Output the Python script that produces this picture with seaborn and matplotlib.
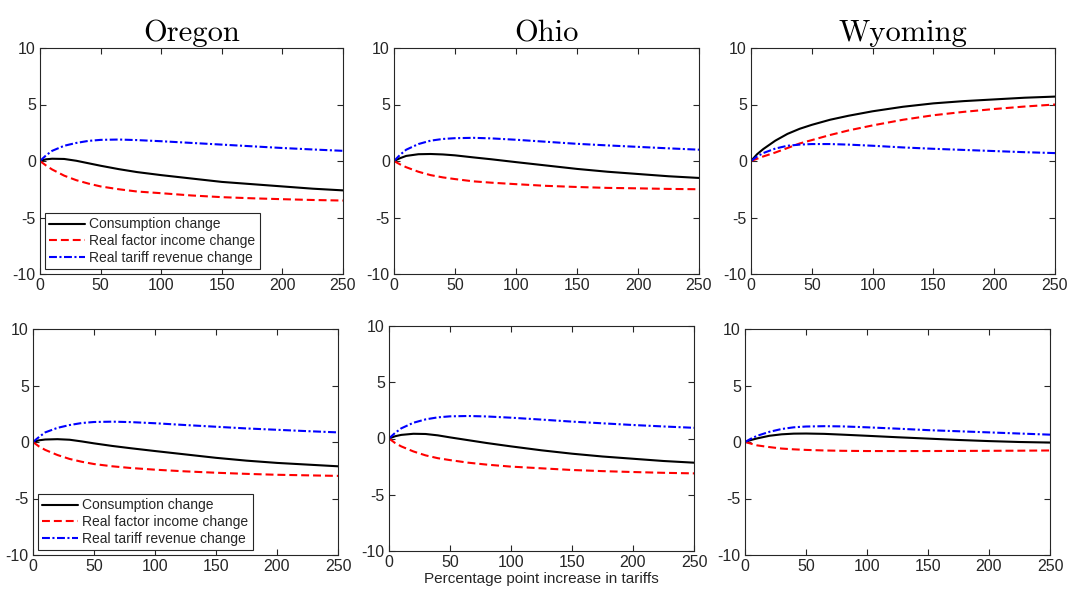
import numpy as np
import pandas as pd
import seaborn as sns
import matplotlib
matplotlib.use("Agg")
import matplotlib.pyplot as plt

sns.set_theme(style="ticks")
plt.rcParams['font.family'] = ['Liberation Sans', 'DejaVu Sans']
plt.rcParams['axes.unicode_minus'] = False

# ---------------- data ----------------
x_vals = [0, 5, 10, 20, 30, 40, 50, 65, 80, 100, 125, 150, 175, 200, 225, 250]
states = ["Oregon", "Ohio", "Wyoming"]
series_names = ["Consumption change", "Real factor income change", "Real tariff revenue change"]

# top row
oregon_top_cons = [0, 0.15, 0.2, 0.18, 0.02, -0.2, -0.42, -0.72, -0.98, -1.25, -1.55, -1.85, -2.05, -2.25, -2.45, -2.6]
oregon_top_fac = [0, -0.4, -0.75, -1.3, -1.7, -2.0, -2.25, -2.5, -2.7, -2.85, -3.05, -3.2, -3.3, -3.38, -3.45, -3.5]
oregon_top_tar = [0, 0.5, 0.9, 1.35, 1.6, 1.78, 1.87, 1.9, 1.85, 1.75, 1.6, 1.45, 1.3, 1.15, 1.02, 0.9]

ohio_top_cons = [0, 0.25, 0.45, 0.6, 0.62, 0.58, 0.5, 0.32, 0.15, -0.1, -0.4, -0.7, -0.95, -1.15, -1.35, -1.5]
ohio_top_fac = [0, -0.3, -0.55, -0.95, -1.25, -1.45, -1.6, -1.8, -1.92, -2.05, -2.2, -2.3, -2.38, -2.42, -2.47, -2.5]
ohio_top_tar = [0, 0.55, 1.0, 1.5, 1.8, 1.95, 2.02, 2.05, 2.0, 1.88, 1.7, 1.52, 1.38, 1.25, 1.12, 1.0]

wyoming_top_cons = [0, 0.6, 1.05, 1.8, 2.4, 2.85, 3.2, 3.65, 4.0, 4.4, 4.8, 5.1, 5.3, 5.45, 5.6, 5.7]
wyoming_top_fac = [0, 0.2, 0.4, 0.75, 1.15, 1.55, 1.85, 2.3, 2.7, 3.15, 3.65, 4.05, 4.35, 4.6, 4.82, 5.0]
wyoming_top_tar = [0, 0.4, 0.7, 1.1, 1.35, 1.45, 1.5, 1.5, 1.45, 1.35, 1.2, 1.08, 0.98, 0.88, 0.78, 0.7]

# bottom row
oregon_bot_cons = [0, 0.15, 0.22, 0.25, 0.2, 0.05, -0.12, -0.35, -0.55, -0.8, -1.1, -1.4, -1.65, -1.85, -2.0, -2.15]
oregon_bot_fac = [0, -0.4, -0.7, -1.15, -1.5, -1.75, -1.95, -2.15, -2.3, -2.45, -2.6, -2.72, -2.82, -2.9, -2.95, -3.0]
oregon_bot_tar = [0, 0.45, 0.85, 1.25, 1.5, 1.68, 1.77, 1.8, 1.76, 1.66, 1.5, 1.35, 1.2, 1.08, 0.96, 0.85]

ohio_bot_cons = [0, 0.2, 0.32, 0.42, 0.4, 0.28, 0.1, -0.15, -0.4, -0.7, -1.05, -1.35, -1.6, -1.8, -2.0, -2.15]
ohio_bot_fac = [0, -0.4, -0.7, -1.15, -1.5, -1.75, -1.92, -2.15, -2.32, -2.5, -2.65, -2.8, -2.9, -2.98, -3.05, -3.1]
ohio_bot_tar = [0, 0.5, 0.9, 1.4, 1.7, 1.88, 1.97, 2.0, 1.96, 1.85, 1.68, 1.5, 1.35, 1.2, 1.07, 0.95]

wyoming_bot_cons = [0, 0.18, 0.32, 0.55, 0.68, 0.74, 0.75, 0.72, 0.65, 0.55, 0.42, 0.3, 0.18, 0.08, 0.0, -0.05]
wyoming_bot_fac = [0, -0.15, -0.3, -0.45, -0.58, -0.65, -0.7, -0.75, -0.78, -0.8, -0.8, -0.8, -0.79, -0.78, -0.77, -0.75]
wyoming_bot_tar = [0, 0.3, 0.55, 0.9, 1.15, 1.3, 1.37, 1.4, 1.38, 1.3, 1.18, 1.05, 0.95, 0.85, 0.75, 0.65]

x_ticks = [0, 50, 100, 150, 200, 250]
y_ticks = [-10, -5, 0, 5, 10]
x_label = "Percentage point increase in tariffs"

panels = [
    [(oregon_top_cons, oregon_top_fac, oregon_top_tar),
     (ohio_top_cons, ohio_top_fac, ohio_top_tar),
     (wyoming_top_cons, wyoming_top_fac, wyoming_top_tar)],
    [(oregon_bot_cons, oregon_bot_fac, oregon_bot_tar),
     (ohio_bot_cons, ohio_bot_fac, ohio_bot_tar),
     (wyoming_bot_cons, wyoming_bot_fac, wyoming_bot_tar)],
]

# ---------------- layout ----------------
W, H = 1069, 598
fig = plt.figure(figsize=(W / 100, H / 100), dpi=100)
# pixel boxes (left, top, right, bottom)
boxes = [
    [(40, 48, 343, 274), (394, 48, 699, 274), (751, 48, 1055, 274)],
    [(33, 329, 338, 555), (389, 326, 694, 551), (745, 329, 1050, 555)],
]

styles = [
    dict(color="black", linestyle="-"),
    dict(color="#ff0000", dashes=(3.8, 1.9)),
    dict(color="#0000ff", dashes=(3.8, 1.2, 1.0, 1.2)),
]

for r in range(2):
    for c in range(3):
        l, t, rr, b = boxes[r][c]
        ax = fig.add_axes([l / W, 1 - b / H, (rr - l) / W, (b - t) / H])
        for s, vals in enumerate(panels[r][c]):
            sns.lineplot(x=x_vals, y=vals, ax=ax, lw=1.5, label=series_names[s],
                         legend=False, **styles[s])
        ax.set_xlim(0, 250)
        ax.set_ylim(-10, 10)
        ax.set_xticks(x_ticks)
        ax.set_yticks(y_ticks)
        ax.tick_params(direction="in", length=4, width=0.8, top=True, right=True,
                       labelsize=11.5, colors="#262626", pad=3)
        ax.tick_params(labelcolor="#262626")
        for sp in ax.spines.values():
            sp.set_color("#262626")
            sp.set_linewidth(0.8)
            sp.set_visible(True)
        ax.set_xlabel("")
        ax.set_ylabel("")
        if r == 0:
            ax.set_title(states[c], fontfamily="cmr10", fontsize=22, pad=5, color="black")
        if r == 1 and c == 1:
            ax.set_xlabel(x_label, fontsize=11, color="#262626", labelpad=1)
        if c == 0:
            leg = ax.legend(loc="lower left", fontsize=10, frameon=True, fancybox=False,
                            edgecolor="#262626", borderpad=0.3, labelspacing=0.2,
                            handlelength=2.6, handletextpad=0.3, borderaxespad=0.35)
            leg.get_frame().set_linewidth(0.8)
            leg.get_frame().set_alpha(1)

fig.savefig("out.png", dpi=100)
